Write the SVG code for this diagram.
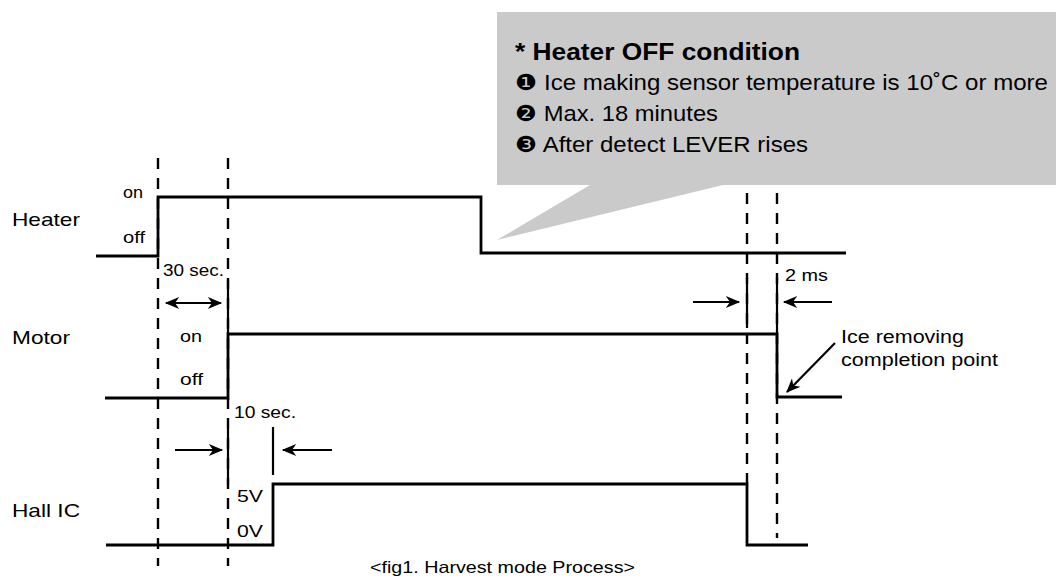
<svg xmlns="http://www.w3.org/2000/svg" width="1056" height="581" viewBox="0 0 1056 581">
<style>
text{font-family:"Liberation Sans","Arial",sans-serif;fill:#000}
.lbl{font-size:19px}
.sm{font-size:16.5px}
.co{font-size:21.5px}
.sig{fill:none;stroke:#000;stroke-width:2.8}
.mark{fill:none;stroke:#000;stroke-width:2.2}
.dash{fill:none;stroke:#000;stroke-width:2.4;stroke-dasharray:11 9}
.arr{fill:none;stroke:#000;stroke-width:2.2;marker-end:url(#ah)}
</style>
<defs>
<marker id="ah" viewBox="0 0 12 10" refX="11" refY="5" markerWidth="16" markerHeight="12" markerUnits="userSpaceOnUse" orient="auto-start-reverse">
<path d="M0,0 L12,5 L0,10 L3.5,5 Z" fill="#000"/>
</marker>
</defs>
<rect width="1056" height="581" fill="#fff"/>

<g id="callout">
<path d="M497,12 H1056 V185 H723 L497,240 L590,185 H497 Z" fill="#cacaca"/>
<text x="515" y="60" font-size="23" font-weight="bold" textLength="285" lengthAdjust="spacingAndGlyphs">* Heater OFF condition</text>
<text class="co" x="515" y="90" textLength="533" lengthAdjust="spacingAndGlyphs">❶ Ice making sensor temperature is 10˚C or more</text>
<text class="co" x="515" y="121" textLength="203" lengthAdjust="spacingAndGlyphs">❷ Max. 18 minutes</text>
<text class="co" x="515" y="152" textLength="293" lengthAdjust="spacingAndGlyphs">❸ After detect LEVER rises</text>
</g>

<g id="connectors">
<line class="dash" x1="158" y1="158" x2="158" y2="566"/>
<line class="dash" x1="228" y1="158" x2="228" y2="566"/>
<line class="dash" x1="747" y1="193" x2="747" y2="484"/>
<line class="dash" x1="777" y1="193" x2="777" y2="538"/>
<line class="mark" x1="228" y1="280" x2="228" y2="334"/>
<line class="mark" x1="228" y1="429" x2="228" y2="485"/>
<line class="mark" x1="273" y1="427" x2="273" y2="475"/>
<line class="mark" x1="747" y1="277" x2="747" y2="328"/>
<line class="mark" x1="777" y1="277" x2="777" y2="334"/>
<path class="arr" d="M166,303 H221" marker-start="url(#ah)"/>
<path class="arr" d="M175,450 H222"/>
<path class="arr" d="M332,450 H283"/>
<path class="arr" d="M693,302 H739"/>
<path class="arr" d="M832,302 H784"/>
<path class="arr" d="M835,343 L787,392"/>
</g>

<g id="heater">
<text class="lbl" x="12" y="226" textLength="68" lengthAdjust="spacingAndGlyphs">Heater</text>
<text class="sm" x="123" y="198" textLength="20" lengthAdjust="spacingAndGlyphs">on</text>
<text class="sm" x="123" y="243" textLength="22" lengthAdjust="spacingAndGlyphs">off</text>
<path class="sig" d="M96,256 H158 V197 H481 V253 H846"/>
<text class="sm" x="163" y="276" textLength="61" lengthAdjust="spacingAndGlyphs">30 sec.</text>
</g>

<g id="motor">
<text class="lbl" x="12" y="344" textLength="58" lengthAdjust="spacingAndGlyphs">Motor</text>
<text class="sm" x="180" y="342" textLength="22" lengthAdjust="spacingAndGlyphs">on</text>
<text class="sm" x="180" y="385" textLength="23" lengthAdjust="spacingAndGlyphs">off</text>
<path class="sig" d="M105,398 H228 V334 H777 V397 H842"/>
<text class="sm" x="785" y="281" textLength="43" lengthAdjust="spacingAndGlyphs">2 ms</text>
<text x="841" y="343" font-size="17.5" textLength="123" lengthAdjust="spacingAndGlyphs">Ice removing</text>
<text x="841" y="366" font-size="17.5" textLength="157" lengthAdjust="spacingAndGlyphs">completion point</text>
</g>

<g id="hall-ic">
<text class="lbl" x="12" y="517" textLength="68" lengthAdjust="spacingAndGlyphs">Hall IC</text>
<text class="sm" x="234" y="418" textLength="62" lengthAdjust="spacingAndGlyphs">10 sec.</text>
<text class="sm" x="237" y="502" textLength="26" lengthAdjust="spacingAndGlyphs">5V</text>
<text class="sm" x="237" y="537" textLength="26" lengthAdjust="spacingAndGlyphs">0V</text>
<path class="sig" d="M106,545 H273 V484 H747 V545 H808"/>
</g>

<g id="caption">
<text x="370" y="573" font-size="16.5" textLength="265" lengthAdjust="spacingAndGlyphs">&lt;fig1. Harvest mode Process&gt;</text>
</g>
</svg>
